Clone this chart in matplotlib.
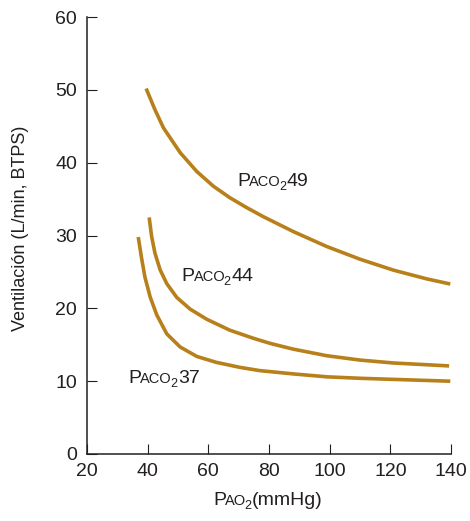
import matplotlib
matplotlib.use('Agg')
import matplotlib.pyplot as plt
from matplotlib.transforms import offset_copy

plt.rcParams['font.family'] = ['Liberation Sans', 'DejaVu Sans']

# PaO2 (mmHg) vs ventilation (L/min, BTPS)
pao2_49 = [39.5, 42.4, 45.2, 50.7, 56.2, 61.6, 67.1, 72.6, 78.1, 88.0, 99.0, 110.0, 121.0, 132.0, 139.7]
vent_49 = [50.2, 47.3, 44.8, 41.4, 38.8, 36.8, 35.2, 33.85, 32.6, 30.55, 28.5, 26.75, 25.25, 24.05, 23.35]

pao2_44 = [40.5, 41.3, 42.4, 44.1, 46.3, 49.6, 54.0, 59.5, 67.1, 74.8, 80.3, 88.0, 99.0, 110.0, 121.0, 139.3]
vent_44 = [32.5, 29.9, 27.6, 25.3, 23.4, 21.5, 19.9, 18.5, 17.0, 15.9, 15.2, 14.4, 13.5, 12.9, 12.5, 12.1]

pao2_37 = [36.9, 38.0, 39.1, 40.8, 43.0, 46.3, 50.7, 56.2, 62.5, 70.4, 77.0, 88.0, 99.0, 110.0, 121.0, 139.7]
vent_37 = [29.8, 26.9, 24.3, 21.6, 19.1, 16.5, 14.7, 13.4, 12.6, 11.9, 11.45, 11.0, 10.6, 10.4, 10.25, 10.0]

labels = ['49', '44', '37']
label_pos = [(69.4, 36.8), (51.2, 23.7), (33.6, 9.7)]

xticks = [20, 40, 60, 80, 100, 120, 140]
yticks = [0, 10, 20, 30, 40, 50, 60]

curve_col = '#B8801A'
text_col = '#231F20'

fig = plt.figure(figsize=(4.7, 5.21), dpi=100)
ax = fig.add_axes([0.185, 0.1286, 0.775, 0.8384])

for xs, ys in [(pao2_49, vent_49), (pao2_44, vent_44), (pao2_37, vent_37)]:
    ax.plot(xs, ys, color=curve_col, lw=2.6, solid_joinstyle='round', solid_capstyle='butt')

ax.set_xlim(20, 140)
ax.set_ylim(0, 60)
ax.set_xticks(xticks)
ax.set_yticks(yticks)
ax.spines['top'].set_visible(False)
ax.spines['right'].set_visible(False)
for s in ['left', 'bottom']:
    ax.spines[s].set_linewidth(1.1)
    ax.spines[s].set_color(text_col)
ax.tick_params(direction='in', length=7, width=0.8, colors=text_col, labelsize=14)
ax.tick_params(axis='y', pad=7)
ax.tick_params(axis='x', pad=6.5)

fig.text(21 / 470, 0.5624, 'Ventilación (L/min, BTPS)', rotation=90, ha='center',
         va='center', fontsize=13, color=text_col)

renderer = fig.canvas.get_renderer()


def multi_text(x, y, parts, transform):
    # parts: (text, fontsize, vertical offset px, extra gap px after)
    dx = 0
    for s, size, dy, gap in parts:
        tr = offset_copy(transform, fig=fig, x=dx, y=dy, units='dots')
        t = fig.text(x, y, s, transform=tr, fontsize=size, color=text_col,
                     ha='left', va='baseline')
        dx += t.get_window_extent(renderer).width + gap


for lab, (x, y) in zip(labels, label_pos):
    multi_text(x, y, [('P', 14, 0, -1), ('ACO', 10.5, 0, -1.5), ('2', 9, -4, 0.5), (lab, 14, 0, 0)],
               ax.transData)

multi_text(213 / 470, 1 - 505 / 521,
           [('P', 14, 0, -1), ('AO', 10.5, 0, -1.5), ('2', 9, -4, 0.5), ('(mmHg)', 14, 0, 0)],
           fig.transFigure)

fig.savefig('out.png', dpi=100)
